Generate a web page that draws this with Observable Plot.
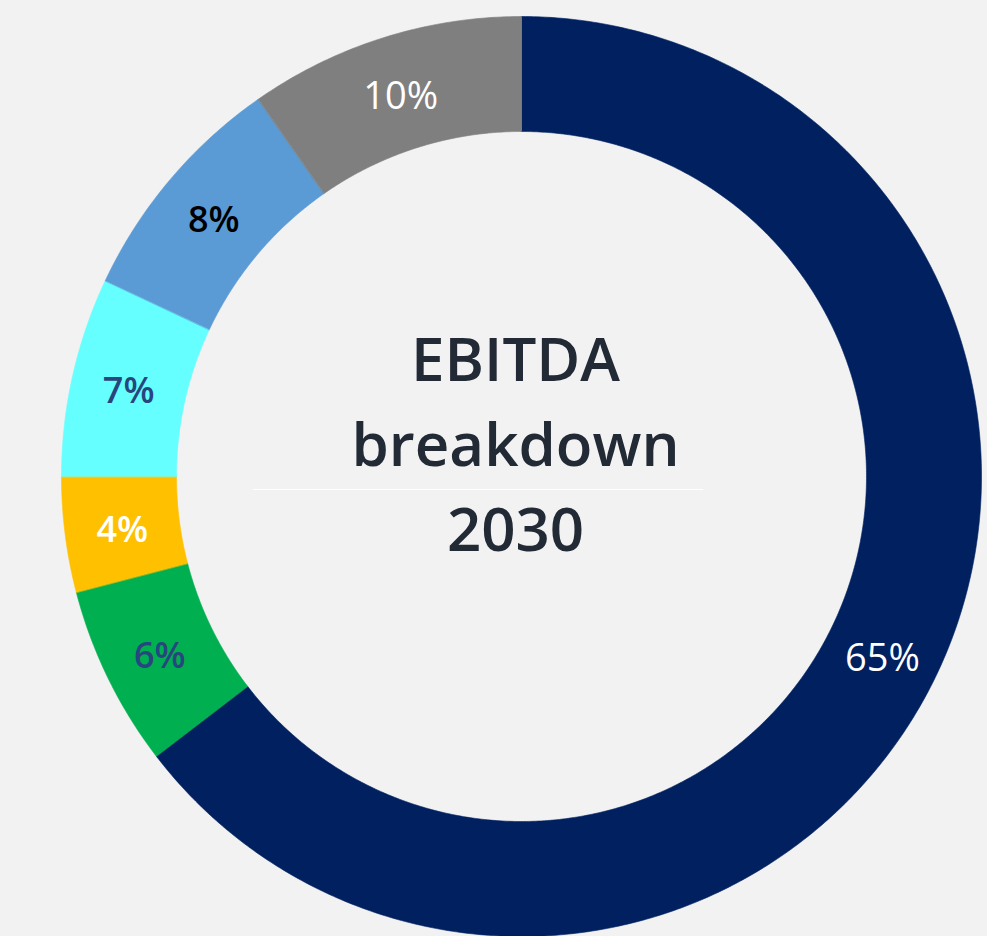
<!DOCTYPE html>
<html><head><meta charset="utf-8">
<script src="https://cdn.jsdelivr.net/npm/d3@7"></script>
<script src="https://cdn.jsdelivr.net/npm/@observablehq/plot@0.6"></script>
<style>html,body{margin:0;padding:0;background:#f2f2f2;overflow:hidden}</style>
</head><body><div id="chart"></div>
<script>
// Data, clockwise from 12 o'clock
const segments = ["Segment 1", "Segment 2", "Segment 3", "Segment 4", "Segment 5", "Segment 6"];
const shares = [64.6, 6.35, 4.05, 7.0, 8.3, 9.7];
const labels = ["65%", "6%", "4%", "7%", "8%", "10%"];
const colors = ["#002060", "#00b050", "#ffc000", "#66ffff", "#5b9bd5", "#7f7f7f"];
const labelColors = ["#ffffff", "#27467e", "#ffffff", "#27467e", "#000000", "#ffffff"];
const labelBold = [false, true, true, true, true, false];
const centerTitle = ["EBITDA", "breakdown", "2030"];

const W = 987, H = 936;
const R = 1, r = 0.75;           // outer / inner radius in data units
const px = 460;                  // pixels per data unit
const cx = 521, cy = 476;        // centre in pixels

const table = segments.map((s, i) => ({key: s, share: shares[i], label: labels[i],
  color: colors[i], labelColor: labelColors[i], bold: labelBold[i]}));
const arcs = d3.pie().sort(null).value(d => d.share).startAngle(0).endAngle(2 * Math.PI)(table);

// polygon points of each ring slice
const pts = [];
for (const a of arcs) {
  const n = Math.max(8, Math.ceil((a.endAngle - a.startAngle) / (Math.PI / 360)));
  for (let k = 0; k <= n; k++) {
    const t = a.startAngle + (a.endAngle - a.startAngle) * k / n;
    pts.push({key: a.data.key, color: a.data.color, x: R * Math.sin(t), y: R * Math.cos(t)});
  }
  for (let k = n; k >= 0; k--) {
    const t = a.startAngle + (a.endAngle - a.startAngle) * k / n;
    pts.push({key: a.data.key, color: a.data.color, x: r * Math.sin(t), y: r * Math.cos(t)});
  }
}
const mids = arcs.map(a => {
  const t = (a.startAngle + a.endAngle) / 2, rm = (R + r) / 2;
  return {...a.data, x: rm * Math.sin(t), y: rm * Math.cos(t)};
});

const font = "'Open Sans', Lato, sans-serif";
const chart = Plot.plot({
  width: W, height: H,
  margin: 0,
  style: {background: "#f2f2f2", fontFamily: font},
  x: {domain: [-cx / px, (W - cx) / px], axis: null},
  y: {domain: [-(H - cy) / px, cy / px], axis: null},
  color: {type: "identity"},
  marks: [
    Plot.line(pts, {x: "x", y: "y", z: "key", fill: "color", stroke: "color", strokeWidth: 0.6, curve: "linear-closed"}),
    Plot.ruleY([0], {x1: -0.583, x2: 0.396, dy: 13, stroke: "#ffffff", strokeWidth: 1}),
    Plot.text(mids.filter(d => d.bold), {x: "x", y: "y", text: "label", fill: "labelColor", dy: 3,
      fontSize: 36, fontWeight: 600, fontFamily: font}),
    Plot.text(mids.filter(d => !d.bold), {x: "x", y: "y", text: "label", fill: "labelColor", dy: 4,
      fontSize: 38, fontWeight: 500, fontFamily: font}),
    Plot.text([centerTitle.join("\n")], {x: 0, y: 0, text: d => d, dx: -6, dy: -38,
      fill: "#222a35", fontSize: 60, fontWeight: 600, lineHeight: 1.42, fontFamily: font})
  ]
});
document.getElementById("chart").appendChild(chart);
</script>
</body></html>
